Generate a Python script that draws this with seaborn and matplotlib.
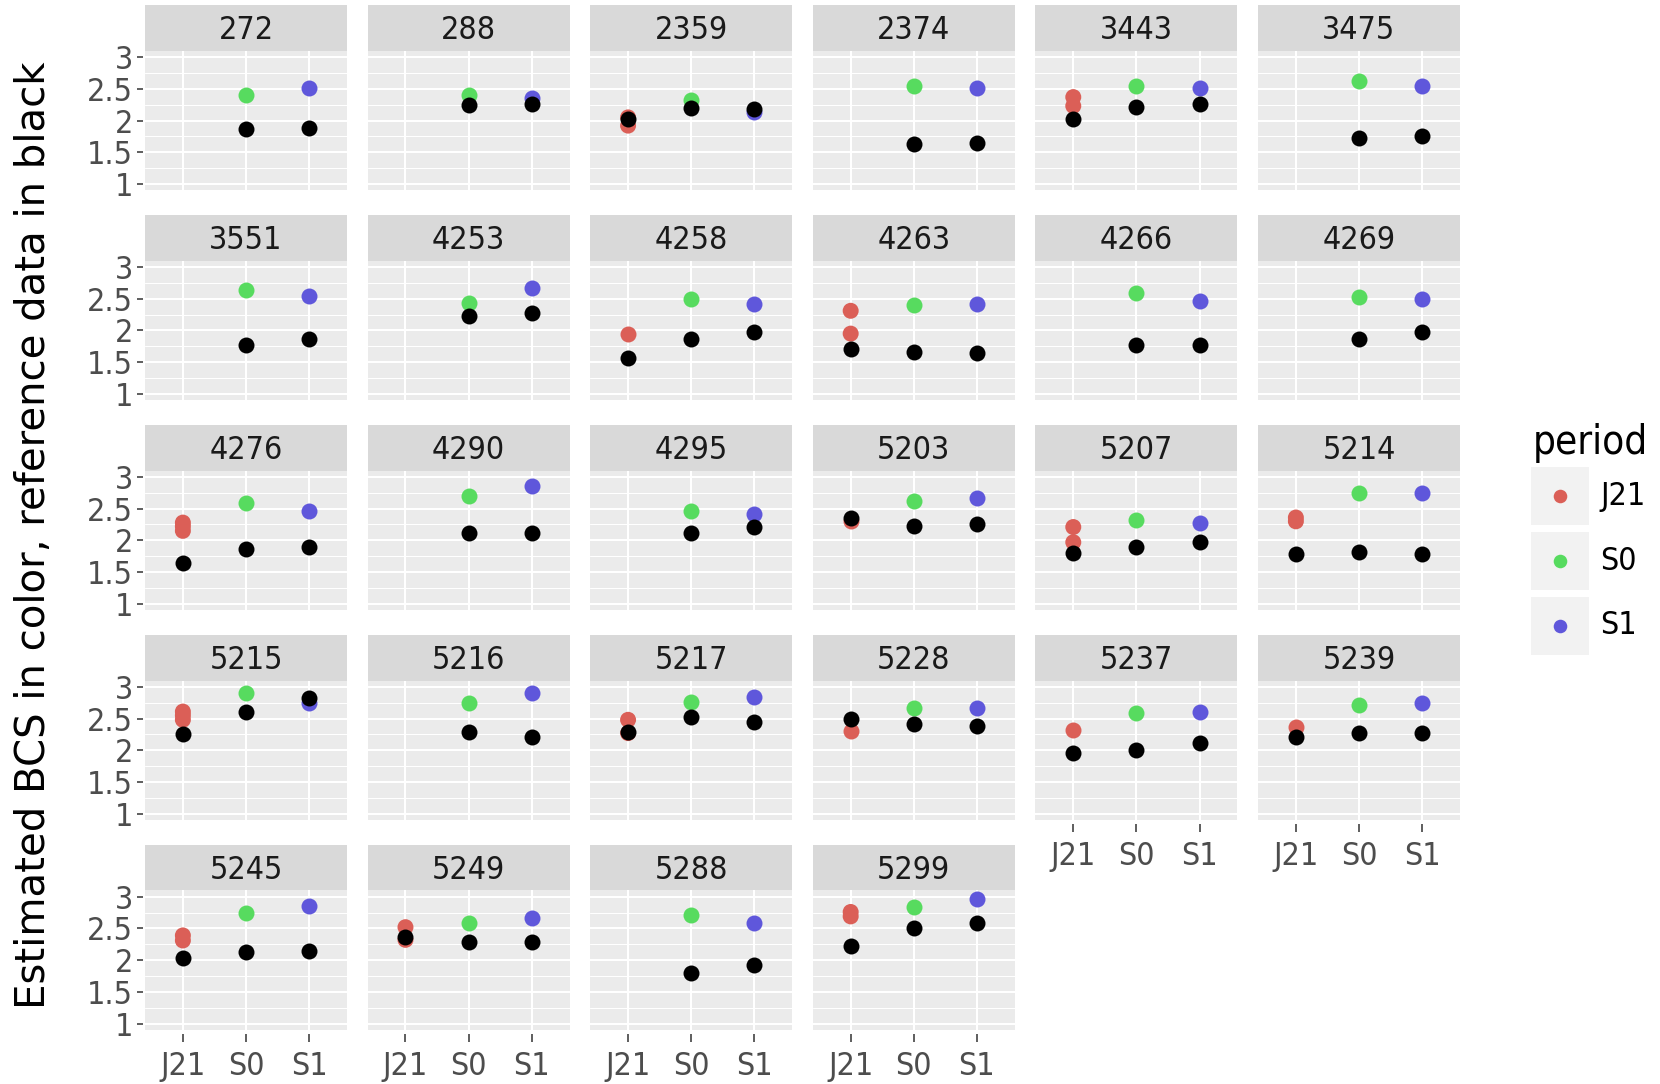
import numpy as np
import pandas as pd
import matplotlib
matplotlib.use("Agg")
import matplotlib.pyplot as plt
import seaborn as sns
from matplotlib.patches import Rectangle
from matplotlib.lines import Line2D
from matplotlib.ticker import FixedLocator

# ---- data -------------------------------------------------------------
animals = ["272", "288", "2359", "2374", "3443", "3475",
           "3551", "4253", "4258", "4263", "4266", "4269",
           "4276", "4290", "4295", "5203", "5207", "5214",
           "5215", "5216", "5217", "5228", "5237", "5239",
           "5245", "5249", "5288", "5299"]
periods = ["J21", "S0", "S1"]

# estimated BCS (coloured); J21 may hold several estimates per animal
est_j21 = [[], [], [2.05, 1.92], [], [2.37, 2.23], [],
           [], [], [1.95], [2.31, 1.95], [], [],
           [2.28, 2.22, 2.15], [], [], [2.31], [2.21, 1.97], [2.36, 2.30],
           [2.61, 2.55, 2.48], [], [2.48, 2.27], [2.30], [2.32], [2.36],
           [2.39, 2.31], [2.52, 2.32], [], [2.76, 2.69]]
est_s0 = [2.40, 2.40, 2.32, 2.55, 2.55, 2.62,
          2.64, 2.43, 2.49, 2.40, 2.59, 2.53,
          2.59, 2.70, 2.47, 2.62, 2.32, 2.75,
          2.91, 2.75, 2.76, 2.66, 2.58, 2.72,
          2.74, 2.59, 2.71, 2.84]
est_s1 = [2.51, 2.35, 2.14, 2.52, 2.52, 2.55,
          2.55, 2.67, 2.42, 2.42, 2.46, 2.50,
          2.47, 2.85, 2.41, 2.67, 2.27, 2.75,
          2.75, 2.91, 2.84, 2.66, 2.60, 2.74,
          2.85, 2.66, 2.58, 2.96]

# reference BCS (black)
ref_j21 = [None, None, 2.03, None, 2.02, None,
           None, None, 1.56, 1.70, None, None,
           1.65, None, None, 2.36, 1.80, 1.79,
           2.26, None, 2.28, 2.50, 1.95, 2.21,
           2.04, 2.37, None, 2.22]
ref_s0 = [1.87, 2.25, 2.20, 1.63, 2.21, 1.72,
          1.77, 2.23, 1.86, 1.66, 1.77, 1.87,
          1.87, 2.11, 2.11, 2.23, 1.90, 1.82,
          2.60, 2.29, 2.52, 2.41, 2.00, 2.27,
          2.13, 2.28, 1.79, 2.50]
ref_s1 = [1.89, 2.26, 2.18, 1.65, 2.26, 1.75,
          1.86, 2.27, 1.97, 1.65, 1.77, 1.97,
          1.89, 2.12, 2.21, 2.25, 1.97, 1.78,
          2.83, 2.21, 2.45, 2.39, 2.11, 2.27,
          2.15, 2.28, 1.93, 2.59]

period_colors = ["#DB5F57", "#57DB5F", "#5F57DB"]

y_ticks = [1, 1.5, 2, 2.5, 3]
y_tick_labels = ["1", "1.5", "2", "2.5", "3"]
y_title = "Estimated BCS in color, reference data in black"
legend_title = "period"

# ---- long tables --------------------------------------------------------
est_rows = []
for a, j, s0, s1 in zip(animals, est_j21, est_s0, est_s1):
    for v in j:
        est_rows.append((a, "J21", v))
    est_rows.append((a, "S0", s0))
    est_rows.append((a, "S1", s1))
est_df = pd.DataFrame(est_rows, columns=["animal", "period", "bcs"])

ref_rows = []
for a, j, s0, s1 in zip(animals, ref_j21, ref_s0, ref_s1):
    for p, v in zip(periods, (j, s0, s1)):
        if v is not None:
            ref_rows.append((a, p, v))
ref_df = pd.DataFrame(ref_rows, columns=["animal", "period", "bcs"])

# ---- style ---------------------------------------------------------------
sns.set_style("white")
plt.rcParams["font.family"] = ["DejaVu Sans"]
plt.rcParams["font.stretch"] = "condensed"

pt_size = 11.5
palette = dict(zip(periods, period_colors))

g = sns.FacetGrid(est_df, col="animal", col_wrap=6, col_order=animals,
                  sharex=True, sharey=True, height=2, aspect=1.4,
                  despine=False)
g.map_dataframe(sns.stripplot, x="period", y="bcs", hue="period",
                order=periods, hue_order=periods, palette=palette,
                jitter=False, size=pt_size, marker="o", linewidth=0,
                legend=False, zorder=3)

for a, ax in g.axes_dict.items():
    sub = ref_df[ref_df["animal"] == a]
    sns.stripplot(data=sub, x="period", y="bcs", order=periods,
                  color="black", jitter=False, size=pt_size, marker="o",
                  linewidth=0, legend=False, zorder=4, ax=ax)

fig = g.figure
fig.set_size_inches(16.6, 10.84)
fig.set_dpi(100)
W, H = 1660.0, 1084.0

col_left0, col_pitch, panel_w = 145.0, 222.6, 202.0
row_top0, row_pitch, panel_h = 50.8, 209.9, 139.5
strip_h = 45.5

tick_fs = 23
for i, a in enumerate(animals):
    ax = g.axes_dict[a]
    r, c = divmod(i, 6)
    left = (col_left0 + col_pitch * c) / W
    bottom = 1 - (row_top0 + row_pitch * r + panel_h) / H
    ax.set_position([left, bottom, panel_w / W, panel_h / H])

    ax.set_facecolor("#EBEBEB")
    for s in ax.spines.values():
        s.set_visible(False)
    # ticks sit slightly apart from the panel
    ax.spines["left"].set_position(("outward", 1.5))
    ax.spines["bottom"].set_position(("outward", 3))
    ax.set_xlim(-0.6, 2.6)
    ax.set_ylim(0.9, 3.1)
    ax.set_xticks(range(len(periods)))
    ax.set_xticklabels(periods)
    ax.set_yticks(y_ticks)
    ax.set_yticklabels(y_tick_labels)
    ax.yaxis.set_minor_locator(FixedLocator([1.25, 1.75, 2.25, 2.75]))
    ax.set_axisbelow(True)
    ax.grid(True, which="major", color="white", linewidth=1.5)
    ax.grid(True, which="minor", axis="y", color="white", linewidth=0.75)
    ax.set_xlabel("")
    ax.set_ylabel("")
    ax.set_title("")

    first_col = c == 0
    bottom_row = i >= len(animals) - 6
    ax.tick_params(which="minor", length=0)
    ax.tick_params(axis="y", which="major", left=first_col,
                   labelleft=first_col, length=4.5, width=1.1,
                   color="#333333", labelcolor="#4D4D4D",
                   labelsize=tick_fs, pad=2.5)
    ax.tick_params(axis="x", which="major", bottom=bottom_row,
                   labelbottom=bottom_row, length=6, width=1.1,
                   color="#333333", labelcolor="#4D4D4D",
                   labelsize=tick_fs, pad=6)

    # facet strip
    sh = strip_h / panel_h
    ax.add_patch(Rectangle((0, 1), 1, sh, transform=ax.transAxes,
                           facecolor="#D9D9D9", edgecolor="none",
                           clip_on=False, zorder=1))
    ax.text(0.5, 1 + (strip_h / 2 - 2.5) / panel_h, a,
            transform=ax.transAxes, ha="center", va="center",
            fontsize=tick_fs, color="#1A1A1A")

fig.text(34 / W, 0.506, y_title, rotation=90, ha="center", va="center",
         fontsize=29, fontstretch="normal", color="black")

# legend
fig.text(1533 / W, 1 - 443 / H, legend_title, ha="left", va="center",
         fontsize=29, color="black")
key = 58.0
for k, (p, col) in enumerate(zip(periods, period_colors)):
    cy = [496.0, 561.0, 626.0][k]
    fig.add_artist(Rectangle((1531 / W, 1 - (cy + key / 2) / H), key / W,
                             key / H, transform=fig.transFigure,
                             facecolor="#F2F2F2", edgecolor="none"))
    fig.add_artist(Line2D([1560 / W], [1 - cy / H], transform=fig.transFigure,
                          marker="o", markersize=pt_size * 0.85, color=col,
                          markeredgewidth=0, linestyle="none"))
    fig.text(1600 / W, 1 - cy / H, p, ha="left", va="center",
             fontsize=tick_fs, color="black")

fig.savefig("out.png", dpi=100, facecolor="white")
